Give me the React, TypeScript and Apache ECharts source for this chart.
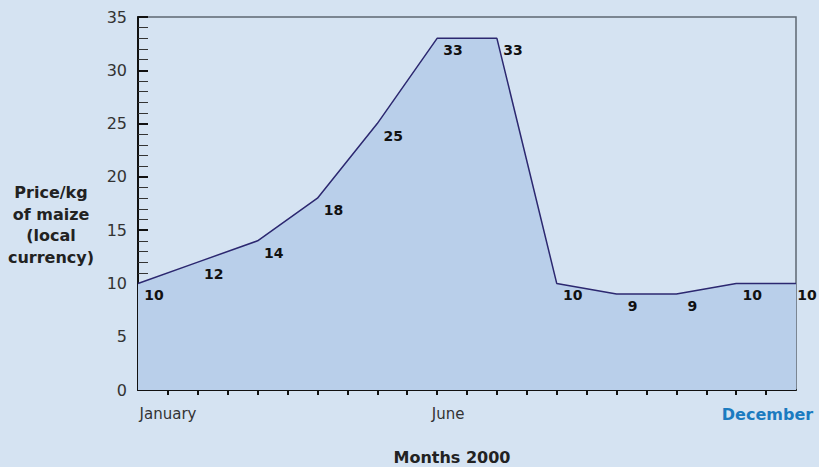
import React, { useEffect, useRef } from "react";
import * as echarts from "echarts";

const months = [
  "January", "February", "March", "April", "May", "June",
  "July", "August", "September", "October", "November", "December",
];
const prices = [10, 12, 14, 18, 25, 33, 33, 10, 9, 9, 10, 10];
const shownMonths = ["January", "June", "December"];
const yTicks = [0, 5, 10, 15, 20, 25, 30, 35];
const xTitle = "Months 2000";
const yTitle = "Price/kg\nof maize\n(local\ncurrency)";

export default function App() {
  const ref = useRef<HTMLDivElement>(null);
  useEffect(() => {
    if (!ref.current) return;
    const chart = echarts.init(ref.current, null, { renderer: "svg" });
    // half-month slots: months on even slots, blanks between
    const cats: string[] = [];
    const vals: any[] = [];
    months.forEach((m, i) => {
      cats.push(m);
      if (i === months.length - 1) {
        vals.push({ value: prices[i], label: { offset: [11, 0] } });
      } else {
        vals.push(prices[i]);
      }
      if (i < months.length - 1) {
        cats.push("");
        vals.push(null);
      }
    });
    const last = cats.length - 1;
    const font = "DejaVu Sans";
    chart.setOption({
      animation: false,
      backgroundColor: "#d5e3f2",
      grid: {
        left: 138,
        right: 23,
        top: 17,
        bottom: 77,
        show: true,
        borderColor: "#5d6873",
        borderWidth: 1.5,
        backgroundColor: "transparent",
        outerBoundsMode: "none",
      },
      xAxis: [
        {
          type: "category",
          position: "bottom",
          data: cats,
          boundaryGap: false,
          axisLine: { lineStyle: { color: "#111", width: 2 } },
          axisTick: {
            show: true,
            inside: true,
            length: 7,
            lineStyle: { color: "#111", width: 2 },
            interval: (i: number) => i !== 0 && i !== last,
          },
          axisLabel: {
            interval: (i: number, v: string) => shownMonths.includes(v) && v !== "",
            margin: 16,
            formatter: (v: string) => {
              if (v === "January") return "{jan|" + v + "}";
              if (v === "June") return "{jun|" + v + "}";
              if (v === "December") return "{dec|" + v + "}";
              return "";
            },
            rich: {
              jan: { fontFamily: font, fontSize: 15, color: "#333", padding: [0, 0, 0, 60] },
              jun: { fontFamily: font, fontSize: 15, color: "#333", padding: [0, 0, 0, 22] },
              dec: {
                fontFamily: font,
                fontSize: 16,
                fontWeight: "bold",
                color: "#1b7bc0",
                padding: [0, 57, 0, 0],
              },
            },
          },
          splitLine: { show: false },
          name: xTitle,
          nameLocation: "middle",
          nameGap: 59,
          nameTextStyle: {
            fontFamily: font,
            fontSize: 16,
            fontWeight: "bold",
            color: "#222",
            padding: [0, 30, 0, 0],
          },
        },
        {
          type: "category",
          position: "bottom",
          offset: 0,
          data: cats,
          boundaryGap: false,
          axisLine: { show: false },
          axisTick: {
            show: true,
            inside: false,
            length: 5,
            lineStyle: { color: "#111", width: 2 },
            interval: (i: number) => i !== 0 && i !== last,
          },
          axisLabel: { show: false },
          splitLine: { show: false },
        },
      ],
      yAxis: {
        type: "value",
        min: yTicks[0],
        max: yTicks[yTicks.length - 1],
        interval: 5,
        axisLine: { show: true, lineStyle: { color: "#111", width: 2 } },
        axisTick: { show: true, inside: true, length: 10, lineStyle: { color: "#111", width: 2 } },
        minorTick: { show: true, splitNumber: 5, length: 10, lineStyle: { color: "#333", width: 1 } },
        splitLine: { show: false },
        axisLabel: { fontFamily: font, fontSize: 16, color: "#333", margin: 11 },
      },
      graphic: [
        {
          type: "text",
          x: 51,
          y: 225,
          style: {
            text: yTitle,
            fontFamily: font,
            fontSize: 16,
            fontWeight: "bold",
            fill: "#222",
            align: "center",
            verticalAlign: "middle",
            lineHeight: 21.5,
          },
        },
      ],
      series: [
        {
          type: "line",
          data: vals,
          connectNulls: true,
          symbol: "circle",
          symbolSize: 0,
          showSymbol: true,
          itemStyle: { color: "#2c2870" },
          lineStyle: { color: "#2c2870", width: 1.5 },
          areaStyle: { color: "#b9cfea", opacity: 1 },
          label: {
            show: true,
            position: "bottom",
            distance: 5,
            offset: [16, 0],
            fontFamily: font,
            fontSize: 14,
            fontWeight: "bold",
            color: "#111",
          },
        },
      ],
    });
    return () => chart.dispose();
  }, []);
  return (
    <div
      ref={ref}
      style={{ position: "absolute", left: 0, top: 0, width: 819, height: 467 }}
    />
  );
}
